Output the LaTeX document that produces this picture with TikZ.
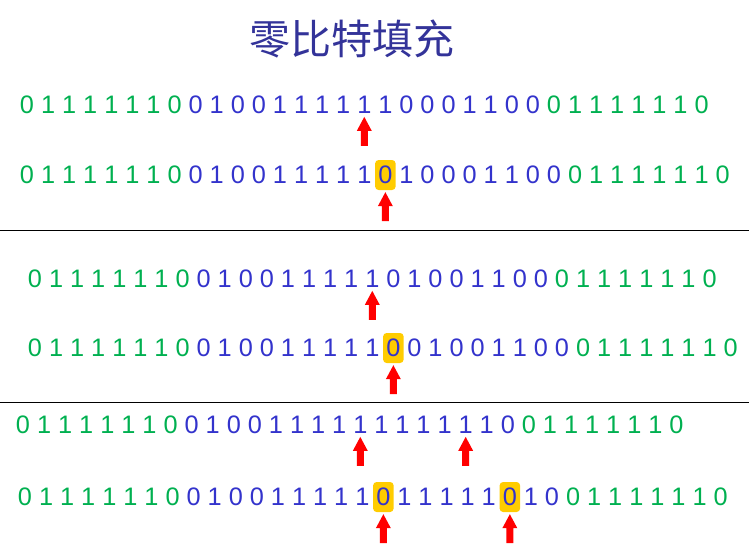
\documentclass[tikz,border=0pt]{standalone}
\usepackage{fontspec}
\setmainfont{Liberation Sans}
\newfontfamily\cjk{Noto Sans CJK SC}
\usetikzlibrary{calc}

\definecolor{flaggreen}{RGB}{0,176,80}
\definecolor{datablue}{RGB}{51,51,204}
\definecolor{titleblue}{RGB}{51,51,153}
\definecolor{stuffyellow}{RGB}{255,204,0}
\definecolor{arrowred}{RGB}{255,0,0}

\newcommand{\bitpitch}{21.08}
% one row of bits: name, x of first bit, y, number of bits, bits (2 = stuffed 0)
\newcommand{\bitrow}[5]{%
  \foreach \b [count=\i] in {#5}{%
    \pgfmathtruncatemacro\isflag{(\i<9)||(\i>#4-8)}%
    \ifnum\isflag=1 \def\bitcol{flaggreen}\else\def\bitcol{datablue}\fi
    \ifnum\b=2
      \node[stuffed] (#1-\i) at ({#2+(\i-1)*\bitpitch},#3) {0};
    \else
      \node[bit,text=\bitcol] (#1-\i) at ({#2+(\i-1)*\bitpitch},#3) {\b};
    \fi
  }}

\begin{document}
\begin{tikzpicture}[x=1pt, y=-1pt]
\tikzset{
  bit/.style={inner sep=0pt, font=\fontsize{25.3}{26}\selectfont},
  stuffed/.style={bit, fill=stuffyellow, rounded corners=3.5pt, minimum width=20.5pt, minimum height=30pt, text=datablue},
  title/.style={inner sep=0pt, text=titleblue, font=\cjk\fontsize{41}{41}\selectfont},
  sep/.style={draw=black, line width=0.8pt},
  uparrow/.pic={\fill[arrowred] (0,0) -- (7.5,14) -- (3.5,14) -- (3.5,29) -- (-3.5,29) -- (-3.5,14) -- (-7.5,14) -- cycle;}
}
\useasboundingbox (0,0) rectangle (749,550);

\node[title] (title) at (352,39) {零比特填充};

% case 1: five 1s followed by 1
\bitrow{r1}{27}{105}{33}{0,1,1,1,1,1,1,0,0,1,0,0,1,1,1,1,1,1,0,0,0,1,1,0,0,0,1,1,1,1,1,1,0}
\bitrow{r2}{27}{175}{34}{0,1,1,1,1,1,1,0,0,1,0,0,1,1,1,1,1,2,1,0,0,0,1,1,0,0,0,1,1,1,1,1,1,0}
\pic at ($(r1-17.south)+(0,3)$) {uparrow};
\pic at ($(r2-18.south)+(0,2)$) {uparrow};

\coordinate (s1l) at (0,230); \coordinate (s1r) at (749,230);
\draw[sep] (s1l) -- (s1r);

% case 2: five 1s followed by 0
\bitrow{r3}{35}{279}{33}{0,1,1,1,1,1,1,0,0,1,0,0,1,1,1,1,1,0,1,0,0,1,1,0,0,0,1,1,1,1,1,1,0}
\bitrow{r4}{35}{348}{34}{0,1,1,1,1,1,1,0,0,1,0,0,1,1,1,1,1,2,0,1,0,0,1,1,0,0,0,1,1,1,1,1,1,0}
\pic at ($(r3-17.south)+(0,3)$) {uparrow};
\pic at ($(r4-18.south)+(0,2)$) {uparrow};

\coordinate (s2l) at (0,402); \coordinate (s2r) at (749,402);
\draw[sep] (s2l) -- (s2r);

% case 3: eleven 1s in a row
\bitrow{r5}{23}{425}{32}{0,1,1,1,1,1,1,0,0,1,0,0,1,1,1,1,1,1,1,1,1,1,1,0,0,1,1,1,1,1,1,0}
\bitrow{r6}{25}{497}{34}{0,1,1,1,1,1,1,0,0,1,0,0,1,1,1,1,1,2,1,1,1,1,1,2,1,0,0,1,1,1,1,1,1,0}
\pic at ($(r5-17.south)+(0,3)$) {uparrow};
\pic at ($(r5-22.south)+(0,3)$) {uparrow};
\pic at ($(r6-18.south)+(0,2)$) {uparrow};
\pic at ($(r6-24.south)+(0,2)$) {uparrow};
\end{tikzpicture}
\end{document}
